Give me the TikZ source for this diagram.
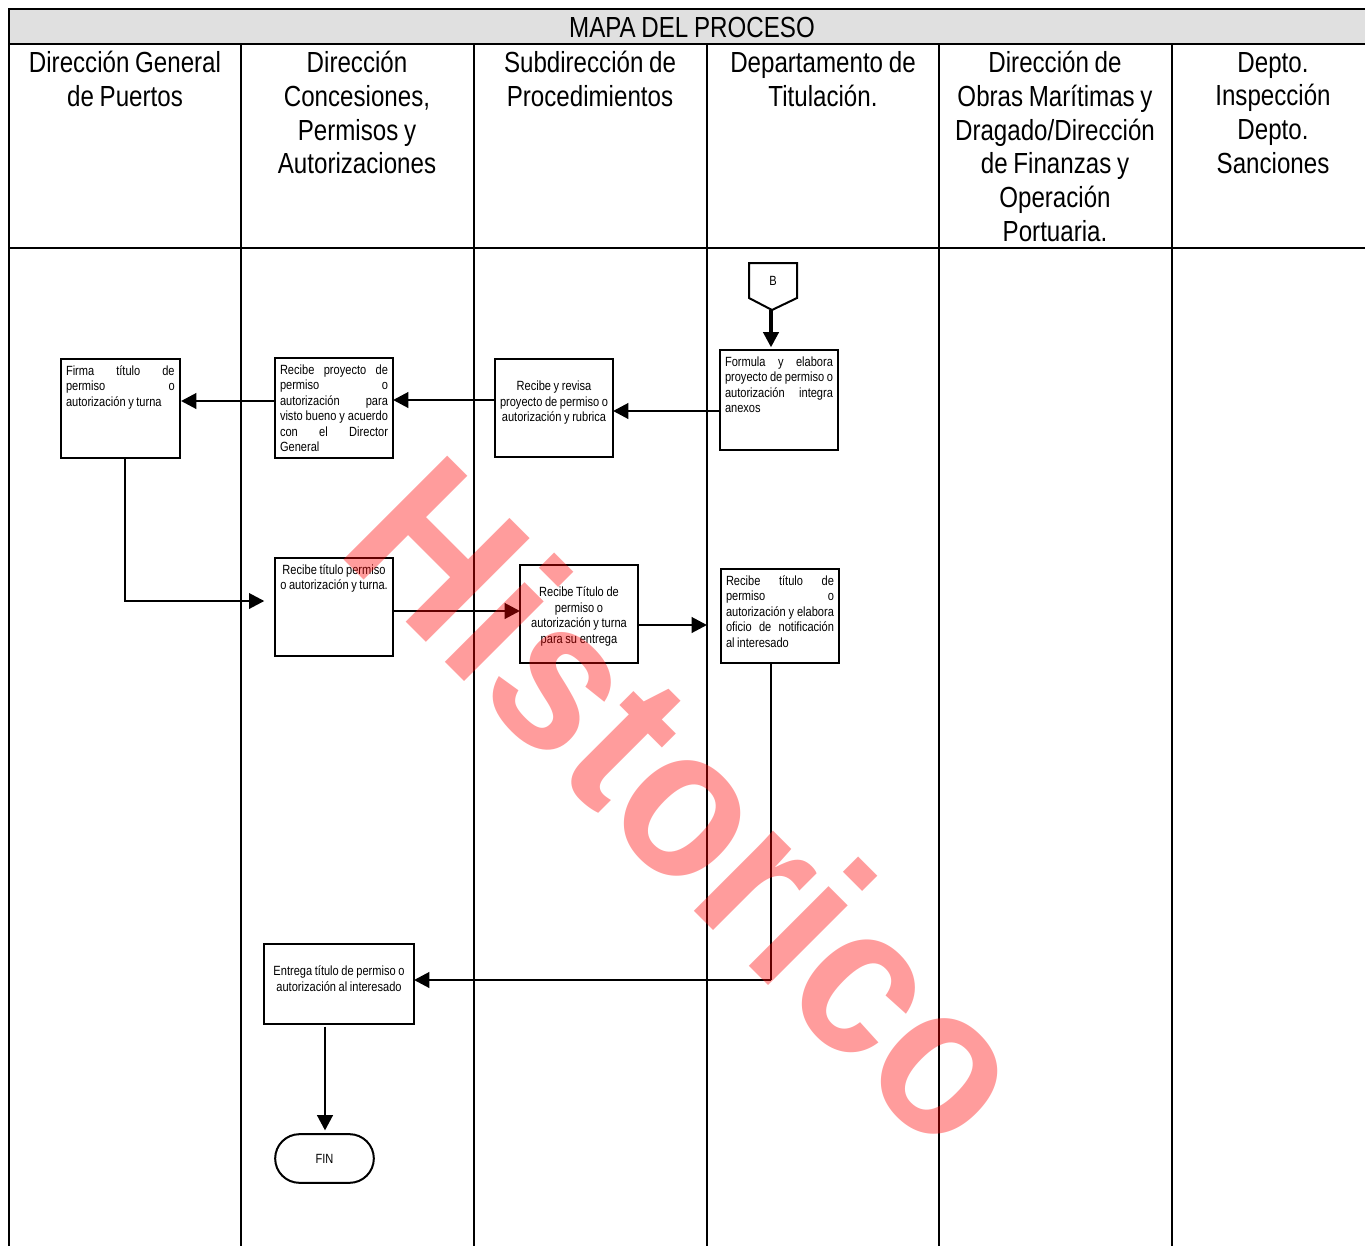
\documentclass[tikz,border=0pt]{standalone}
\usepackage{fontspec}
\setmainfont[FakeStretch=0.83,WordSpace=0.85]{Liberation Sans}
\newfontfamily\wmfont[FakeStretch=0.93]{Liberation Sans Bold}
\usetikzlibrary{arrows.meta,shapes.misc}
\newcommand{\hdrfont}{\fontsize{21.8pt}{25.3pt}\selectfont}
\newcommand{\smfont}{\fontsize{10pt}{11.6pt}\selectfont}
\newcommand{\jl}[1]{\makebox[\linewidth][s]{#1}\par}
\newcommand{\pb}[3]{\parbox[t][#1][t]{#2}{\smfont\parindent=0pt\rule{0pt}{10.7pt}#3}}
\tikzset{
  x=0.75pt,y=-0.75pt,
  grid/.style={line width=1.5pt,black},
  flowbox/.style={draw=black,line width=1.6pt,fill=white,anchor=north west,inner xsep=3.75pt,inner ysep=1.5pt,outer sep=0pt,align=left},
  hdr/.style={anchor=north,align=flush center,font=\hdrfont,inner sep=0pt,text width=170pt},
  tip/.style={-{Triangle[length=11.5pt,width=11.5pt]}},
  flow/.style={line width=2.2pt,tip},
  flowthin/.style={line width=2pt},
}
\begin{document}
\begin{tikzpicture}
\clip (0,0) rectangle (1365,1246);
\fill[white] (0,0) rectangle (1365,1246);
% table
\fill[black!12] (9,9) rectangle (1365,44);
\draw[grid] (1365,9) -- (9,9) -- (9,1246);
\draw[grid] (9,44) -- (1365,44);
\draw[grid] (9,248) -- (1365,248);
\foreach \x in {241,474,707,939,1172} \draw[grid] (\x,44) -- (\x,1246);
% headers
\node[anchor=center,font=\hdrfont,inner sep=0pt] (title) at (692,27) {MAPA DEL PROCESO};
\node[hdr] (h1) at (125,51) {Dirección General\\de Puertos};
\node[hdr] (h2) at (357,51) {Dirección\\Concesiones,\\Permisos y\\Autorizaciones};
\node[hdr] (h3) at (590,51) {Subdirección de\\Procedimientos};
\node[hdr] (h4) at (823,51) {Departamento de\\Titulación.};
\node[hdr] (h5) at (1055,51) {Dirección de\\Obras Marítimas y\\Dragado/Dirección\\de Finanzas y\\Operación\\Portuaria.};
\node[hdr] (h6) at (1273,52) {Depto.\\Inspección\\Depto.\\Sanciones};
% boxes
\node[flowbox] (firma) at (61,359)
  {\pb{71pt}{81.5pt}{\jl{Firma título de}\jl{permiso o}autorización y turna}};
\node[flowbox] (proy) at (275,358)
  {\pb{72pt}{81pt}{\jl{Recibe proyecto de}\jl{permiso o}\jl{autorización para}\jl{visto bueno y acuerdo}\jl{con el Director}General}};
\node[flowbox] (revisa) at (495,359)
  {\pb{70.5pt}{81pt}{\centering\par Recibe y revisa\\proyecto de permiso o\\autorización y rubrica}};
\node[flowbox] (formula) at (720,350)
  {\pb{72pt}{81pt}{\jl{Formula y elabora}\jl{proyecto de permiso o}\jl{autorización integra}anexos}};
\node[flowbox] (tper) at (275,558)
  {\pb{70.5pt}{81pt}{\centering Recibe título permiso\\o autorización y turna.}};
\node[flowbox] (ttur) at (520,565)
  {\pb{70.5pt}{81pt}{\centering\par Recibe Título de\\permiso o\\autorización y turna\\para su entrega}};
\node[flowbox] (tnot) at (721,569)
  {\pb{67.5pt}{81pt}{\jl{Recibe título de}\jl{permiso o}\jl{autorización y elabora}\jl{oficio de notificación}al interesado}};
\node[flowbox] (entrega) at (264,944)
  {\pb{57pt}{105pt}{\centering\par Entrega título de permiso o\\autorización al interesado}};
\node[draw=black,line width=1.5pt,fill=white,rounded rectangle,minimum width=74pt,minimum height=36.5pt,inner sep=0pt,font=\smfont] (fin) at (324.5,1158.5) {FIN};
\draw[line width=1.5pt,fill=white] (749,263) -- (797,263) -- (797,298) -- (772,310) -- (749,298) -- cycle;
\node[inner sep=0pt,font=\smfont] (b) at (773,281) {B};
\coordinate (btip) at (771,310);
\coordinate (edge4) at (707,625);
\coordinate (rout) at (771,980);
\coordinate (fd) at (125,458);
% connectors
\draw[flow,line width=2.6pt,shorten >=2pt] (btip) -- (formula.north -| btip);
\draw[flow] (formula.west |- 0,411) -- (revisa.east |- 0,411);
\draw[flow] (revisa.west |- 0,400) -- (proy.east |- 0,400);
\draw[flow,shorten >=1pt] (proy.west |- 0,401) -- (firma.east |- 0,401);
\draw[flowthin,tip,shorten >=8pt] (fd) -- (125,601) -- (tper.west |- 0,601);
\draw[flow] (tper.east |- 0,611) -- (ttur.west |- 0,611);
\draw[flow] (ttur.east |- 0,625) -- (edge4);
\draw[flowthin] (tnot.south -| rout) -- (rout);
\draw[flow] (rout) -- (entrega.east |- rout);
\draw[flow,shorten <=2pt,shorten >=2pt] (entrega.south -| 325,0) -- (fin.north -| 325,0);
% watermark
\node[rotate=-45,inner sep=0pt,text=red,text opacity=0.39,font={\wmfont\fontsize{160pt}{160pt}\selectfont}] (wm) at (692,801) {Historico};
\end{tikzpicture}
\end{document}
